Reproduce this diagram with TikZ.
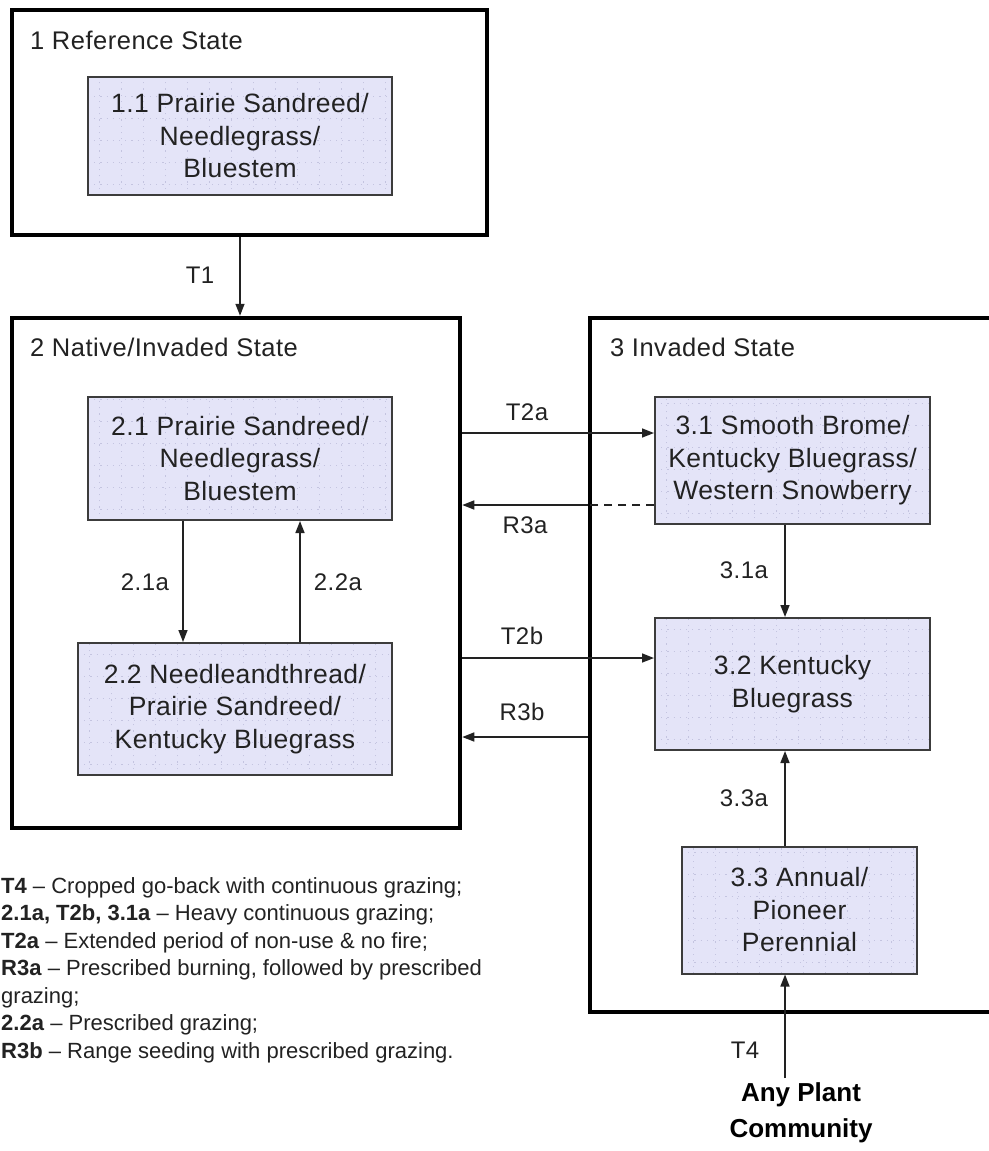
\documentclass[tikz,border=0pt]{standalone}
\usepackage{fontspec}
\setmainfont{Liberation Sans}
\newfontfamily\spacedfont[LetterSpace=1.5]{Liberation Sans}
\newfontfamily\titlefont[LetterSpace=2]{Liberation Sans}
\usetikzlibrary{arrows.meta}
\definecolor{boxfill}{RGB}{228,228,248}
\definecolor{gridc}{RGB}{196,196,224}
\definecolor{ink}{RGB}{34,34,34}
\definecolor{edgec}{RGB}{60,60,60}
\tikzset{
  statebox/.style={draw=black, line width=4.5pt},
  commbox/.style={draw=edgec, line width=2pt, fill=boxfill, align=center, inner sep=0pt,
    text=ink, font=\spacedfont\fontsize{26.5}{32.5}\selectfont,
    path picture={
      \foreach \k in {0,...,16}{
        \draw[gridc, line width=0.9pt, dash pattern=on 1.2pt off 5pt]
          ([xshift=\k*22pt+11pt]path picture bounding box.south west) -- ([xshift=\k*22pt+11pt]path picture bounding box.north west);
      }
      \foreach \k in {0,...,7}{
        \draw[gridc, line width=0.9pt, dash pattern=on 1.2pt off 5pt]
          ([yshift=\k*22pt+11pt]path picture bounding box.south west) -- ([yshift=\k*22pt+11pt]path picture bounding box.south east);
      }
    }},
  title/.style={anchor=base west, inner sep=0pt, text=ink, font=\titlefont\fontsize{25.5}{30}\selectfont},
  lab/.style={inner sep=0pt, text=ink, font=\titlefont\fontsize{24}{28}\selectfont},
  leg/.style={anchor=base west, inner sep=0pt, text=ink, font=\fontsize{22}{27.5}\selectfont},
  arr/.style={draw=ink, line width=1.6pt, -{Triangle[length=12pt,width=9pt]}},
  ln/.style={draw=ink, line width=1.6pt},
}
\begin{document}
\begin{tikzpicture}[x=1pt,y=-1pt]
\useasboundingbox (0,0) rectangle (988,1151);
\fill[white] (0,0) rectangle (988,1151);

% state boxes
\node[statebox, minimum width=475pt, minimum height=225pt, inner sep=0pt] (state1) at (249.5,122.5) {};
\node[statebox, minimum width=448pt, minimum height=510pt, inner sep=0pt] (state2) at (236,573) {};
\node[statebox, minimum width=420pt, minimum height=694pt, inner sep=0pt] (state3) at (800,665) {};

\node[title] (t1) at (30,49) {1 Reference State};
\node[title] (t2) at (30,356) {2 Native/Invaded State};
\node[title] (t3) at (610,356) {3 Invaded State};

% community boxes
\node[commbox, minimum width=304pt, minimum height=118pt] (n11) at (240,136) {1.1 Prairie Sandreed/\\Needlegrass/\\Bluestem};
\node[commbox, minimum width=304pt, minimum height=123pt] (n21) at (240,458.5) {2.1 Prairie Sandreed/\\Needlegrass/\\Bluestem};
\node[commbox, minimum width=314pt, minimum height=132pt] (n22) at (235,709) {2.2 Needleandthread/\\Prairie Sandreed/\\Kentucky Bluegrass};
\node[commbox, minimum width=275pt, minimum height=127pt] (n31) at (792.5,460.5) {3.1 Smooth Brome/\\Kentucky Bluegrass/\\Western Snowberry};
\node[commbox, minimum width=275pt, minimum height=132pt] (n32) at (792.5,684) {3.2 Kentucky\\Bluegrass};
\node[commbox, minimum width=235pt, minimum height=127pt] (n33) at (799.5,910) {3.3 Annual/\\Pioneer\\Perennial};

% connectors
\draw[arr] (n11.south |- state1.south) -- (n11.south |- state2.north);
\node[lab] (lT1) at (200,275) {T1};

\draw[arr] ([xshift=-57pt]n21.south) -- ([xshift=-52pt]n22.north);
\node[lab] (l21a) at (145,582) {2.1a};
\draw[arr] ([xshift=65pt]n22.north) -- ([xshift=60pt]n21.south);
\node[lab] (l22a) at (338,582) {2.2a};

\draw[arr] (state2.east |- 0,433) coordinate (a1) -- ([yshift=27.5pt]n31.west);
\node[lab] (lT2a) at (527,412) {T2a};
\draw[ln, dashed, dash pattern=on 8pt off 6pt] ([yshift=-44.5pt]n31.west) -- ([yshift=-44.5pt]n31.west -| state3.west) coordinate (r3a);
\draw[arr] (r3a) -- (r3a -| state2.east);
\node[lab] (lR3a) at (525,525) {R3a};

\draw[arr] (state2.east |- 0,658) -- ([yshift=26pt]n32.west);
\node[lab] (lT2b) at (522,636) {T2b};
\draw[arr] (state3.west |- 0,737) coordinate (r3b) -- (r3b -| state2.east);
\node[lab] (lR3b) at (522,712) {R3b};

\draw[arr] ([xshift=-7.5pt]n31.south) -- ([xshift=-7.5pt]n32.north);
\node[lab] (l31a) at (744,570) {3.1a};
\draw[arr] ([xshift=-14.5pt]n33.north) -- ([xshift=-7.5pt]n32.south);
\node[lab] (l33a) at (744,798) {3.3a};

\coordinate (apc) at (785,1078);
\draw[arr] (apc) -- (apc |- n33.south);
\node[lab] (lT4) at (745,1050) {T4};
\node[inner sep=0pt, align=center, text=black, font=\bfseries\fontsize{26}{36}\selectfont] (any) at (801,1113) {Any Plant\\Community};

% legend
\node[leg] (leg1) at (1,893) {\textbf{T4} -- Cropped go-back with continuous grazing;};
\node[leg] (leg2) at (1,920.5) {\textbf{2.1a, T2b, 3.1a} -- Heavy continuous grazing;};
\node[leg] (leg3) at (1,948) {\textbf{T2a} -- Extended period of non-use \& no fire;};
\node[leg] (leg4) at (1,975.5) {\textbf{R3a} -- Prescribed burning, followed by prescribed};
\node[leg] (leg5) at (1,1003) {grazing;};
\node[leg] (leg6) at (1,1030.5) {\textbf{2.2a} -- Prescribed grazing;};
\node[leg] (leg7) at (1,1058) {\textbf{R3b} -- Range seeding with prescribed grazing.};
\end{tikzpicture}
\end{document}
